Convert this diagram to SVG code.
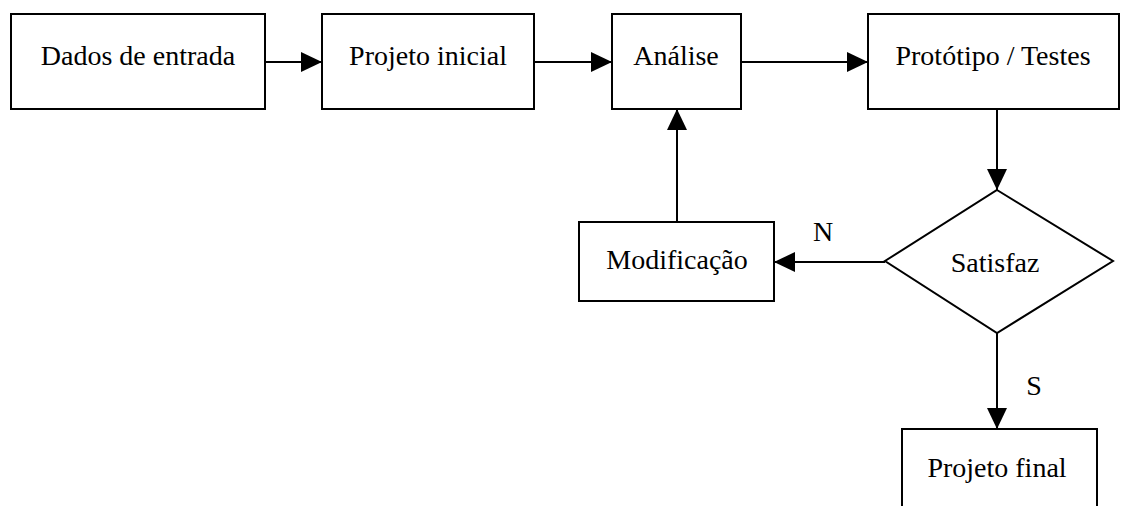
<svg xmlns="http://www.w3.org/2000/svg" width="1121" height="506" viewBox="0 0 1121 506">
  <style>
    .box { fill: #fff; stroke: #000; stroke-width: 2; }
    .lbl { font-family: "Liberation Serif", "Times New Roman", serif; font-size: 28px; fill: #000; text-anchor: middle; }
    .edge { stroke: #000; stroke-width: 2; fill: none; marker-end: url(#head); }
  </style>
  <defs>
    <marker id="head" viewBox="0 0 21 20" refX="21" refY="10" markerWidth="21" markerHeight="20" markerUnits="userSpaceOnUse" orient="auto">
      <path d="M0,0 L21,10 L0,20 Z" fill="#000"/>
    </marker>
  </defs>
  <rect width="1121" height="506" fill="#fff"/>

  <g id="connectors">
    <line class="edge" x1="265" y1="62" x2="322" y2="62"/>
    <line class="edge" x1="534" y1="62" x2="612" y2="62"/>
    <line class="edge" x1="741" y1="62" x2="868" y2="62"/>
    <line class="edge" x1="997" y1="109" x2="997" y2="190"/>
    <line class="edge" x1="885" y1="262" x2="774" y2="262"/>
    <line class="edge" x1="677" y1="222" x2="677" y2="109"/>
    <line class="edge" x1="997" y1="333" x2="997" y2="429"/>
    <text class="lbl" x="823" y="241">N</text>
    <text class="lbl" x="1034" y="395">S</text>
  </g>

  <g id="dados-de-entrada">
    <rect class="box" x="11" y="14" width="254" height="95"/>
    <text class="lbl" x="138" y="65">Dados de entrada</text>
  </g>
  <g id="projeto-inicial">
    <rect class="box" x="322" y="14" width="212" height="95"/>
    <text class="lbl" x="428" y="65">Projeto inicial</text>
  </g>
  <g id="analise">
    <rect class="box" x="612" y="14" width="129" height="95"/>
    <text class="lbl" x="676" y="65">Análise</text>
  </g>
  <g id="prototipo-testes">
    <rect class="box" x="868" y="14" width="251" height="95"/>
    <text class="lbl" x="993" y="65">Protótipo / Testes</text>
  </g>
  <g id="satisfaz">
    <polygon class="box" points="997,190 1113,261 997,333 885,261"/>
    <text class="lbl" x="995" y="272">Satisfaz</text>
  </g>
  <g id="modificacao">
    <rect class="box" x="579" y="222" width="195" height="79"/>
    <text class="lbl" x="677" y="269">Modificação</text>
  </g>
  <g id="projeto-final">
    <rect class="box" x="902" y="429" width="195" height="90"/>
    <text class="lbl" x="997" y="477">Projeto final</text>
  </g>
</svg>
